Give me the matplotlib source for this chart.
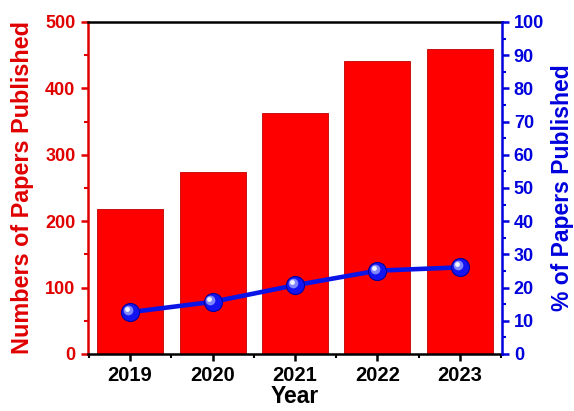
import matplotlib
matplotlib.use("Agg")
import matplotlib.pyplot as plt
import matplotlib.transforms as mtransforms
from matplotlib.ticker import MultipleLocator
import numpy as np

years = ["2019", "2020", "2021", "2022", "2023"]
papers = [219, 274, 363, 441, 460]
percent = [12.6, 15.7, 20.7, 25.1, 26.1]

plt.rcParams['font.family'] = ['Liberation Sans', 'DejaVu Sans']
plt.rcParams['font.weight'] = 'bold'

fig = plt.figure(figsize=(5.74, 4.11), dpi=100)
ax = fig.add_axes([0.1533, 0.1387, 0.7213, 0.8078])
x = np.arange(len(years))
ax.bar(x, papers, width=0.8, color='#ff0000', edgecolor='#c00000', linewidth=0.6, zorder=2)
ax.set_xlim(-0.51, 4.51)
ax.set_ylim(0, 500)
ax.set_xticks(x)
ax.set_xticklabels(years)
ax.xaxis.set_minor_locator(MultipleLocator(0.5))
ax.yaxis.set_major_locator(MultipleLocator(100))
ax.yaxis.set_minor_locator(MultipleLocator(50))
ax.set_xlabel("Year", fontsize=16.5, fontweight='bold', labelpad=0)

red = '#e00000'
blue = '#0000dd'
ax.set_ylabel("Numbers of Papers Published", fontsize=16.8, fontweight='bold', color=red, labelpad=8)
for s in ['top', 'bottom']:
    ax.spines[s].set_linewidth(1.8)
    ax.spines[s].set_color('black')
ax.spines['left'].set_color(red)
ax.spines['left'].set_linewidth(1.8)
ax.spines['right'].set_visible(False)
ax.tick_params(axis='y', colors=red, labelsize=13, width=1.8, length=5, direction='out', pad=4)
ax.tick_params(axis='y', which='minor', colors=red, width=1.5, length=3)
ax.tick_params(axis='x', labelsize=14.5, width=1.8, length=5, direction='out', colors='black')
ax.tick_params(axis='x', which='minor', width=1.5, length=3)

ax2 = ax.twinx()
ax2.set_ylim(0, 100)
ax2.yaxis.set_major_locator(MultipleLocator(10))
ax2.yaxis.set_minor_locator(MultipleLocator(5))
ax2.spines['right'].set_color(blue)
ax2.spines['right'].set_linewidth(1.8)
for s in ['top', 'left', 'bottom']:
    ax2.spines[s].set_visible(False)
ax2.tick_params(axis='y', colors=blue, labelsize=13, width=1.8, length=5, direction='out')
ax2.tick_params(axis='y', which='minor', colors=blue, width=1.5, length=3)
ax2.set_ylabel("% of Papers Published", fontsize=16.5, fontweight='bold', color=blue, labelpad=5)

ax2.plot(x, percent, color='#0a14e6', linewidth=3.3, marker='o', markersize=13,
         markerfacecolor='#1414f0', markeredgecolor='#0000a0', markeredgewidth=0.8, zorder=3)
off1 = mtransforms.offset_copy(ax2.transData, fig=fig, x=-1.5, y=1.5, units='points')
ax2.plot(x, percent, linestyle='none', marker='o', markersize=7,
         markerfacecolor='#7f86ff', markeredgecolor='none', transform=off1, zorder=4)
off2 = mtransforms.offset_copy(ax2.transData, fig=fig, x=-2.2, y=2.2, units='points')
ax2.plot(x, percent, linestyle='none', marker='o', markersize=3.5,
         markerfacecolor='#f2f4ff', markeredgecolor='none', transform=off2, zorder=5)

fig.savefig("out.png", dpi=100)
